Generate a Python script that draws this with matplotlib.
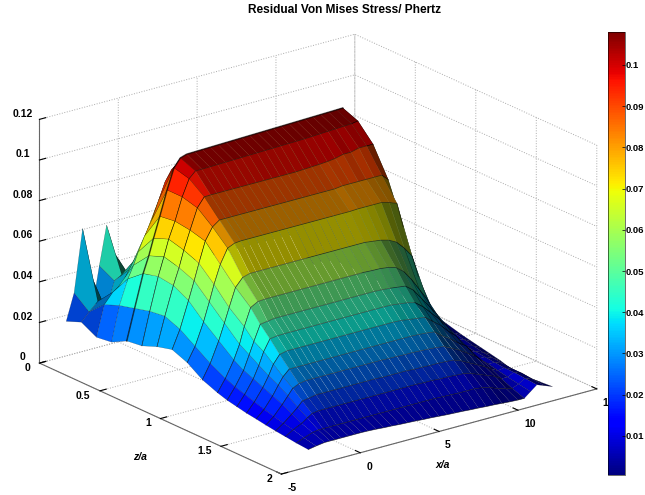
import numpy as np
import matplotlib
matplotlib.use("Agg")
import matplotlib.pyplot as plt
from matplotlib.cm import ScalarMappable
from matplotlib.colors import Normalize

# x/a stations along the surface
x_a = [-3.3, -2.8, -2.26, -1.9, -1.6, -1.2, -0.74, -0.3, 0.1,
       0.5, 1, 1.5, 2, 2.5, 3, 3.5, 4, 4.5, 5, 5.5, 6, 6.5, 7, 7.5, 8, 8.5, 9, 9.5, 10,
       10.4, 10.8, 11.2, 11.7, 12.2]
# z/a stations, the mesh gets finer with depth
z_a = [0, 0.125, 0.25, 0.375, 0.5, 0.625, 0.75, 0.875, 1, 1.125, 1.25,
       1.33, 1.41, 1.49, 1.57, 1.65, 1.73, 1.81, 1.9, 2]

# residual stress, one row per x/a station
stress = [
    [.017, .020, .016, .017, .021, .022, .025, .027, .024, .019, .016, .0145, .0135, .0125, .0118, .011, .0103, .0097, .009, .0085],
    [.030, .024, .031, .034, .036, .038, .039, .036, .031, .026, .022, .020, .0185, .017, .0155, .0142, .013, .012, .0105, .0092],
    [.0605, .028, .036, .046, .052, .054, .053, .049, .042, .036, .030, .027, .025, .023, .021, .019, .0165, .014, .012, .0098],
    [.040, .026, .038, .052, .060, .063, .061, .058, .051, .044, .037, .034, .031, .028, .0255, .0225, .019, .016, .0125, .0098],
    [.022, .026, .040, .058, .068, .071, .069, .066, .059, .051, .045, .040, .037, .033, .029, .0255, .0215, .0175, .0125, .0098],
    [.040, .036, .045, .065, .078, .079, .078, .076, .068, .060, .0535, .0475, .0425, .037, .032, .027, .022, .018, .0125, .0098],
    [.059, .038, .050, .072, .090, .090, .088, .082, .075, .064, .0555, .048, .043, .0378, .032, .0276, .0227, .018, .0125, .0098],
    [.045, .037, .058, .081, .100, .098, .0925, .0845, .0765, .065, .0558, .0485, .0431, .0378, .032, .0276, .0227, .018, .0125, .0098],
    [.032, .043, .064, .089, .104, .101, .0926, .0845, .0768, .065, .0558, .0485, .0431, .0378, .032, .0276, .0227, .018, .0125, .0098],
    [.028, .048, .072, .094, .1050, .1010, .0926, .0845, .0768, .065, .0558, .0485, .0431, .0378, .032, .0276, .0227, .018, .0125, .0097],
    [.028, .052, .077, .096, .1051, .1011, .0926, .0845, .0768, .065, .0558, .0485, .0431, .0378, .032, .0276, .0227, .018, .0125, .0095],
    [.029, .054, .079, .097, .1052, .1012, .0926, .0845, .0768, .065, .0558, .0485, .0431, .0378, .032, .0276, .0227, .018, .0125, .0092],
    [.029, .055, .080, .097, .1053, .1013, .0926, .0845, .0768, .065, .0558, .0485, .0431, .0378, .032, .0276, .0227, .018, .0125, .0090],
    [.029, .055, .080, .097, .1054, .1014, .0926, .0845, .0768, .065, .0558, .0485, .0431, .0378, .032, .0276, .0227, .018, .0125, .0087],
    [.030, .055, .080, .097, .1055, .1015, .0926, .0845, .0768, .065, .0558, .0485, .0431, .0378, .032, .0276, .0227, .018, .0125, .0085],
    [.030, .055, .080, .097, .1056, .1016, .0926, .0845, .0768, .065, .0558, .0485, .0431, .0378, .032, .0276, .0225, .018, .0125, .0083],
    [.030, .055, .080, .097, .1057, .1017, .0926, .0845, .0768, .065, .0558, .0485, .0431, .0378, .032, .0276, .0225, .018, .0125, .0080],
    [.030, .055, .080, .097, .1058, .1018, .0926, .0845, .0768, .065, .0558, .0485, .0431, .0378, .032, .0274, .0225, .018, .0125, .0078],
    [.030, .055, .080, .097, .1059, .1019, .0926, .0845, .0768, .065, .0558, .0485, .0431, .0378, .032, .0274, .0225, .018, .0125, .0075],
    [.030, .055, .080, .097, .1060, .1020, .0926, .0845, .0768, .065, .0558, .0485, .0431, .0378, .032, .0272, .0222, .0178, .0125, .0072],
    [.030, .055, .081, .098, .1061, .1021, .0928, .0845, .0768, .065, .0558, .0485, .0431, .0378, .032, .0272, .0222, .0178, .0123, .0070],
    [.030, .055, .081, .098, .1062, .1022, .093, .0845, .0768, .065, .0556, .0483, .043, .0376, .032, .027, .022, .0175, .0122, .0068],
    [.030, .055, .081, .098, .1063, .1023, .0932, .0845, .0768, .065, .0555, .048, .0425, .037, .0318, .0268, .022, .0175, .012, .0065],
    [.030, .055, .081, .098, .1064, .1025, .0935, .085, .077, .0645, .055, .0475, .042, .0365, .0315, .0265, .0218, .0172, .012, .0063],
    [.030, .055, .081, .098, .1065, .1027, .094, .085, .077, .064, .054, .047, .041, .036, .031, .026, .0215, .017, .012, .0060],
    [.030, .055, .082, .098, .1066, .1029, .095, .085, .077, .063, .051, .044, .038, .033, .028, .024, .020, .016, .0115, .0058],
    [.030, .055, .082, .098, .1067, .1031, .095, .085, .077, .061, .046, .039, .034, .030, .0255, .022, .018, .0145, .0105, .0055],
    [.030, .055, .082, .098, .1068, .1033, .096, .085, .076, .057, .040, .034, .030, .026, .0225, .0195, .016, .013, .009, .0052],
    [.030, .055, .082, .099, .1069, .1035, .096, .085, .0745, .052, .034, .029, .0255, .0225, .020, .017, .014, .0115, .008, .0050],
    [.030, .055, .082, .099, .107, .104, .096, .082, .062, .041, .027, .023, .0205, .018, .016, .014, .012, .0095, .0072, .0050],
    [.030, .054, .080, .095, .100, .094, .080, .056, .034, .024, .019, .017, .015, .0135, .012, .0115, .0105, .0095, .0085, .0075],
    [.028, .047, .066, .073, .072, .060, .045, .030, .022, .018, .015, .014, .013, .0125, .012, .0115, .011, .011, .0105, .0100],
    [.020, .035, .045, .045, .040, .035, .030, .024, .019, .016, .014, .013, .012, .011, .0105, .010, .0095, .0095, .009, .0085],
    [.012, .018, .020, .020, .020, .019, .018, .017, .016, .014, .012, .011, .010, .009, .008, .0065, .006, .006, .0065, .0070],
]

x_ticks = [-5, 0, 5, 10, 15]
z_ticks = [0, 0.5, 1, 1.5, 2]
h_ticks = [0, 0.02, 0.04, 0.06, 0.08, 0.1, 0.12]
cbar_ticks = [0.01, 0.02, 0.03, 0.04, 0.05, 0.06, 0.07, 0.08, 0.09, 0.1]

plt.rcParams['font.family'] = ['Liberation Sans', 'DejaVu Sans']
plt.rcParams['font.weight'] = 'bold'
plt.rcParams['font.size'] = 7.5

X, Y = np.meshgrid(x_a, z_a, indexing='ij')
H = np.array(stress)
norm = Normalize(0.0005, 0.108)

# per face lighting, worked out in box units since the data units are so different
bx = (X + 5) / 20.0
by = Y / 2.0
bz = H / 0.12 * 0.655
ax_, ay_, az_ = bx[1:, 1:] - bx[:-1, :-1], by[1:, 1:] - by[:-1, :-1], bz[1:, 1:] - bz[:-1, :-1]
cx_, cy_, cz_ = bx[1:, :-1] - bx[:-1, 1:], by[1:, :-1] - by[:-1, 1:], bz[1:, :-1] - bz[:-1, 1:]
normal = np.stack([ay_ * cz_ - az_ * cy_, az_ * cx_ - ax_ * cz_, ax_ * cy_ - ay_ * cx_], axis=-1)
normal = normal * np.sign(normal[..., 2:3])
normal = normal / np.linalg.norm(normal, axis=-1, keepdims=True)
light = np.array([-0.85, 0.1, 0.35])
light = light / np.linalg.norm(light)
factor = 0.35 + 0.7 * np.clip(normal @ light, 0, 1)
# peaks behind the hump read duller
factor[Y[:-1, :-1] < 0.25] *= 0.78

face_h = (H[:-1, :-1] + H[1:, :-1] + H[:-1, 1:] + H[1:, 1:]) / 4.0
colors = plt.cm.jet(norm(H))
colors[:-1, :-1] = plt.cm.jet(norm(face_h))
colors[:-1, :-1, :3] *= np.clip(factor, 0, 1)[..., None]

fig = plt.figure(figsize=(6.45, 4.95), dpi=100)
ax = fig.add_axes([-0.018, -0.068, 1.0, 1.08], projection='3d', proj_type='ortho')
ax.computed_zorder = False
ax.set_box_aspect((1, 1, 0.655), zoom=1.125)
ax.view_init(elev=20.6, azim=-127.5)
ax.set_xlim(-5, 15)
ax.set_ylim(2, 0)
ax.set_zlim(0, 0.12)
ax.patch.set_alpha(0)

surf = ax.plot_surface(X, Y, H, facecolors=colors, rstride=1, cstride=1, shade=False,
                       edgecolor='k', linewidth=0.25, antialiased=True, zorder=2)

# dark mesh on the two ends of the surface, faint pale streaks along the plateau
edge = np.zeros((len(x_a) - 1, len(z_a) - 1, 4))
edge[..., 3] = 0.45
plateau = (np.abs(normal[..., 0]) < 0.45) & (X[:-1, :-1] < 10) & (Y[:-1, :-1] >= 0.5)
edge[plateau & (face_h > 0.022)] = (1, 1, 0.8, 0.16)
edge[plateau & (face_h <= 0.022)] = (0, 0, 0, 0.2)
surf.set_edgecolors(edge.reshape(-1, 4))

# the z/a mesh lines read darker than the x/a ones on the front slope
for j in range(4, len(z_a)):
    ax.plot(X[:-4, j], Y[:-4, j], H[:-4, j], color='k', alpha=0.6, lw=1.1 if j == 4 else 0.5, zorder=3)

ax.set_xticks(x_ticks)
ax.set_yticks(z_ticks)
ax.set_zticks(h_ticks)
ax.set_xticklabels([str(t) for t in x_ticks])
ax.set_yticklabels(['0', '0.5', '1', '1.5', '2'])
ax.set_zticklabels(['0', '0.02', '0.04', '0.06', '0.08', '0.1', '0.12'])
ax.set_xlabel('')
ax.set_ylabel('')
ax.set_zlabel('')
ax.tick_params(axis='both', pad=-2, labelsize=7.5)
ax.tick_params(axis='x', pad=-3)
for lab in ax.get_zticklabels():
    lab.set_va('bottom')
for lab in ax.get_xticklabels():
    lab.set_ha('left')
for lab in ax.get_yticklabels():
    lab.set_ha('right')
    lab.set_va('bottom')

for axis in (ax.xaxis, ax.yaxis, ax.zaxis):
    axis.set_pane_color((1, 1, 1, 0))
    axis.pane.set_edgecolor('#aaaaaa')
    axis.pane.set_linestyle(':')
    axis._axinfo['grid'].update(color='#aaaaaa', linestyle=':', linewidth=0.7)
    axis._axinfo['tick'].update(inward_factor=0.0, outward_factor=0.25)
    axis.line.set_color('#666666')
    axis.line.set_linewidth(0.8)

fig.text(443 / 645, 1 - 465 / 495, 'x/a', style='italic', ha='center', va='center')
fig.text(140 / 645, 1 - 457 / 495, 'z/a', style='italic', ha='center', va='center')
fig.text(0.534, 0.992, 'Residual Von Mises Stress/ Phertz', ha='center', va='top', fontsize=8.6)

cax = fig.add_axes([608 / 645, 1 - 475 / 495, 17 / 645, 443 / 495], zorder=5)
cb = fig.colorbar(ScalarMappable(norm=norm, cmap='jet'), cax=cax)
cb.set_ticks(cbar_ticks)
cb.set_ticklabels(['0.01', '0.02', '0.03', '0.04', '0.05', '0.06', '0.07', '0.08', '0.09', '0.1'])
cb.ax.tick_params(length=2, width=0.5, pad=0.5, labelsize=6.8, direction='in')
cb.outline.set_linewidth(0.4)

fig.savefig('out.png', dpi=100)
